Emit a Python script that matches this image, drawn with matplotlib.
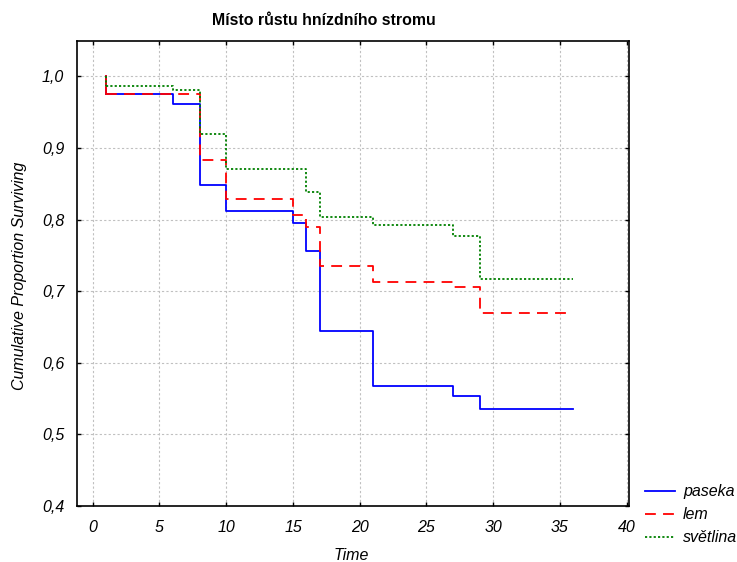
import matplotlib
matplotlib.use("Agg")
import matplotlib.pyplot as plt
from matplotlib.ticker import FuncFormatter

plt.rcParams['font.family'] = ['Liberation Sans', 'DejaVu Sans']

title = "Místo růstu hnízdního stromu"
series_names = ["paseka", "lem", "světlina"]

t_paseka = [0, 1, 6, 8, 10, 15, 16, 17, 21, 27, 29, 36]
s_paseka = [1.0, 0.975, 0.962, 0.848, 0.812, 0.796, 0.756, 0.645, 0.568, 0.554, 0.536, 0.536]

t_lem = [0, 1, 8, 10, 15, 16, 17, 21, 27, 29, 36]
s_lem = [1.0, 0.975, 0.884, 0.829, 0.807, 0.790, 0.735, 0.713, 0.706, 0.670, 0.670]

t_svetlina = [0, 1, 6, 8, 10, 16, 17, 21, 27, 29, 36]
s_svetlina = [1.0, 0.987, 0.981, 0.920, 0.871, 0.838, 0.804, 0.793, 0.777, 0.717, 0.717]

x_ticks = [0, 5, 10, 15, 20, 25, 30, 35, 40]
y_ticks = [0.4, 0.5, 0.6, 0.7, 0.8, 0.9, 1.0]

W, H = 737, 562
fig = plt.figure(figsize=(W / 100, H / 100), dpi=100)
ax = fig.add_axes([0.1041, 0.0996, 0.7498, 0.828])

l1, = ax.step(t_paseka[1:], s_paseka[1:], where='post', color='#0000ff', lw=1.3, zorder=3)
ax.plot([1, 1], [1.0, s_paseka[1]], color='#0000ff', lw=1.3, zorder=3)
l2, = ax.step(t_lem[1:], s_lem[1:], where='post', color='#ff0000', lw=1.3,
              linestyle=(0, (6, 4)), zorder=4)
ax.plot([1, 1], [1.0, s_lem[1]], color='#ff0000', lw=1.3, zorder=4)
l3, = ax.step(t_svetlina[1:], s_svetlina[1:], where='post', color='#008000', lw=1.3,
              linestyle=(0, (1.2, 1.2)), zorder=5)
ax.plot([1, 1], [1.0, s_svetlina[1]], color='#008000', lw=1.3, linestyle=(0, (1.2, 1.2)), zorder=5)

ax.set_xlim(-1.2, 40.2)
ax.set_ylim(0.4, 1.05)
ax.set_xticks(x_ticks)
ax.set_yticks(y_ticks)
ax.yaxis.set_major_formatter(FuncFormatter(lambda v, p: f"{v:.1f}".replace('.', ',')))
ax.tick_params(axis='both', direction='in', length=3, width=1, top=True, right=True,
               labelsize=11.5)
ax.tick_params(axis='x', pad=10)
ax.tick_params(axis='y', pad=9)
for lab in ax.get_xticklabels() + ax.get_yticklabels():
    lab.set_fontstyle('italic')
for sp in ax.spines.values():
    sp.set_linewidth(1.2)
ax.grid(True, color='#c0c0c0', linestyle=(0, (2, 2)), linewidth=0.8)
ax.set_axisbelow(True)

fig.text(351 / W, 1 - 555 / H, "Time", ha='center', va='center',
         fontsize=11.5, fontstyle='italic')
fig.text(19.5 / W, 1 - 276 / H, "Cumulative Proportion Surviving", ha='center', va='center',
         rotation=90, fontsize=11.5, fontstyle='italic')

fig.text(0.439, 0.963, title, ha='center', va='center', fontsize=11.4, fontweight='bold')

leg = fig.legend([l1, l2, l3], series_names, loc='upper left',
                 bbox_to_anchor=(0.875, 0.138), frameon=False,
                 prop={'size': 11.5, 'style': 'italic'}, handlelength=1.9,
                 handletextpad=0.5, labelspacing=0.5, borderaxespad=0, borderpad=0)

fig.savefig("out.png", dpi=100)
